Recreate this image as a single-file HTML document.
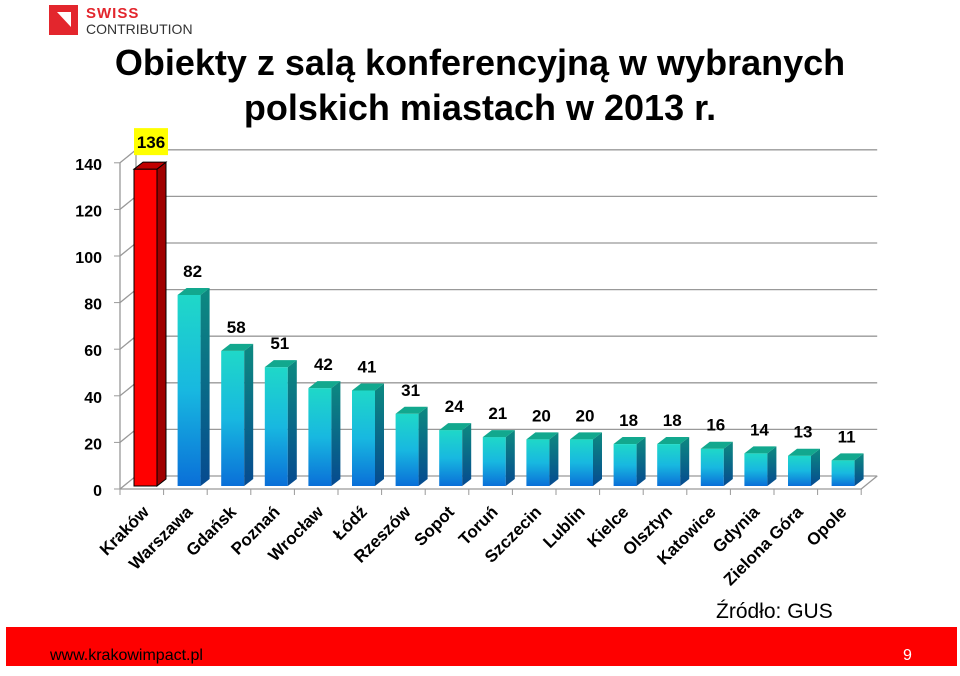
<!DOCTYPE html>
<html><head><meta charset="utf-8"><style>
body{margin:0;width:960px;height:676px;background:#fff;overflow:hidden;font-family:"Liberation Sans",sans-serif;position:relative}
</style></head><body>
<svg width="960" height="676" viewBox="0 0 960 676" style="position:absolute;left:0;top:0">
<defs>
<linearGradient id="bg" x1="0" y1="0" x2="0" y2="1"><stop offset="0" stop-color="#1fd8c8"/><stop offset="0.5" stop-color="#18b8e0"/><stop offset="1" stop-color="#0a6fd8"/></linearGradient>
<linearGradient id="sg" x1="0" y1="0" x2="0" y2="1"><stop offset="0" stop-color="#0d8a80"/><stop offset="1" stop-color="#064a90"/></linearGradient>
</defs>
<g>
<rect x="49" y="5" width="29" height="30" fill="#e3262d"/>
<polygon points="57,12 71,12 71,27" fill="#fff"/>
<text x="86" y="18" font-size="15" font-weight="bold" fill="#e3262d" letter-spacing="1">SWISS</text>
<text x="86" y="34" font-size="14" fill="#333">CONTRIBUTION</text>
</g>
<text x="480" y="75" text-anchor="middle" font-family="'Liberation Sans',sans-serif" font-size="36" font-weight="bold" fill="#000"><tspan x="480" y="75">Obiekty z salą konferencyjną w wybranych</tspan><tspan x="480" y="120">polskich miastach w 2013 r.</tspan></text>
<g id="chart"></g>
<text x="716" y="618" font-size="21" fill="#000">Źródło: GUS</text>
<rect x="6" y="627" width="951" height="39" fill="#fe0000"/>
<text x="50" y="660" font-size="16" fill="#000">www.krakowimpact.pl</text>
<text x="903" y="660" font-size="16" fill="#fff">9</text>
</svg>
<script>
const categories=["Kraków","Warszawa","Gdańsk","Poznań","Wrocław","Łódź","Rzeszów","Sopot","Toruń","Szczecin","Lublin","Kielce","Olsztyn","Katowice","Gdynia","Zielona Góra","Opole"];
const values=[136,82,58,51,42,41,31,24,21,20,20,18,18,16,14,13,11];
const yTicks=[0,20,40,60,80,100,120,140];
const NS="http://www.w3.org/2000/svg";
const g=document.getElementById('chart');
const X0=120,STEP=43.6,DX=16,DY=-13,Y0=489,K=2.33;
const y=v=>Y0-v*K;
const xc=i=>X0+i*STEP;
function mk(t,a,p){const e=document.createElementNS(NS,t);for(const k in a)e.setAttribute(k,a[k]);(p||g).appendChild(e);return e;}
const xEnd=xc(categories.length);
yTicks.forEach(v=>{
const l=mk('polyline',{points:`${X0},${y(v)} ${X0+DX},${y(v)+DY} ${xEnd+DX},${y(v)+DY}`,fill:'none',stroke:'#999','stroke-width':1.3});


const t=mk('text',{x:X0-18,y:y(v)+7,'text-anchor':'end','font-size':16,'font-weight':'bold',fill:'#000'});
t.textContent=v;


});
mk('line',{x1:X0+DX,y1:y(0)+DY,x2:X0+DX,y2:y(140)+DY,stroke:'#999','stroke-width':1.3});
mk('line',{x1:X0,y1:y(0),x2:X0,y2:y(140),stroke:'#999','stroke-width':1.3});
yTicks.forEach(v=>mk('line',{x1:X0-6,y1:y(v),x2:X0,y2:y(v),stroke:'#999'}));
mk('polyline',{points:`${X0},${Y0} ${xEnd},${Y0} ${xEnd+DX},${Y0+DY}`,fill:'none',stroke:'#999','stroke-width':1.3});
for(let i=0;i<=categories.length;i++)mk('line',{x1:xc(i),y1:Y0,x2:xc(i),y2:Y0+6,stroke:'#999'});
values.forEach((v,i)=>{
const x=xc(i)+14,w=23,d=9,dh=-7,b=Y0-3,top=b-v*K;
const red=i===0;
const grp=mk('g',{});


mk('rect',{x:x,y:top,width:w,height:b-top,fill:red?'#ff0000':'url(#bg)',stroke:red?'#000':'none','stroke-width':red?1:0},grp);
mk('polygon',{points:`${x+w},${top} ${x+w+d},${top+dh} ${x+w+d},${b+dh} ${x+w},${b}`,fill:red?'#a00000':'url(#sg)',stroke:red?'#000':'none','stroke-width':red?1:0},grp);
mk('polygon',{points:`${x},${top} ${x+d},${top+dh} ${x+w+d},${top+dh} ${x+w},${top}`,fill:red?'#c00000':'#12a88e',stroke:red?'#000':'none','stroke-width':red?1:0},grp);
const ly=top-14;
if(red){const r=mk('rect',{x:x,y:ly-27,width:34,height:27,fill:'#ffff00'});}
const t=mk('text',{x:x+(red?17:15),y:red?ly-7:ly-4,'text-anchor':'middle','font-size':17,'font-weight':'bold',fill:'#000'});
t.textContent=v;


const c=mk('text',{x:xc(i)+30,y:Y0+24,'text-anchor':'end','font-size':17,'font-weight':'bold',fill:'#000',transform:`rotate(-45 ${xc(i)+30} ${Y0+24})`});
c.textContent=categories[i];


});
</script>
</body></html>
